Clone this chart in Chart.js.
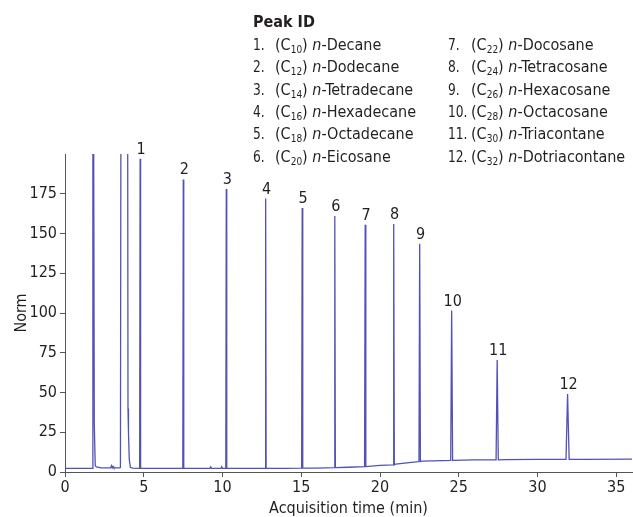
<!DOCTYPE html>
<html>
<head>
<meta charset="utf-8">
<script src="https://cdn.jsdelivr.net/npm/chart.js@4"></script>
<style>
  html, body { margin: 0; padding: 0; background: #fff; }
  #wrap { width: 633px; height: 517px; position: relative; }
</style>
</head>
<body>
<div id="wrap"><canvas id="c" width="633" height="517"></canvas></div>
<script>
// ---- data ----
const peakLabels  = ['1','2','3','4','5','6','7','8','9','10','11','12'];
const peakTimes   = [4.77, 7.51, 10.24, 12.74, 15.06, 17.13, 19.06, 20.87, 22.52, 24.55, 27.44, 31.91];
const peakHeights = [197, 184, 178, 172, 166, 161, 155.5, 156, 143.5, 101.5, 70.5, 49];
const peakBase    = [2.3, 2.3, 2.3, 2.3, 2.4, 2.8, 3.4, 4.5, 6.6, 7.3, 7.6, 8.0];
const peakHalfWidth = [0.03, 0.03, 0.03, 0.03, 0.035, 0.035, 0.04, 0.04, 0.045, 0.06, 0.07, 0.1];

// baseline trace incl. solvent front (off-scale excursions)
const baseTimes  = [0, 1.72, 1.77, 1.80, 1.83, 1.86, 1.92, 2.0, 2.3, 2.9, 2.95, 3.0, 3.05, 3.1, 3.45, 3.52, 3.56, 3.97, 4.0, 4.03, 4.08, 4.15, 4.3,
                    6.0, 9.2, 9.25, 9.3, 9.9, 9.95, 10.0, 14.0, 16.0, 18.0, 20.0, 21.0, 22.0, 22.45, 22.7, 24.0, 26.0, 28.0, 30.0, 33.0, 36.0];
const baseValues = [2.3, 2.3, 300, 300, 300, 30, 4, 3.2, 2.6, 2.6, 4, 2.6, 3.5, 2.6, 2.6, 2.8, 300, 300, 40, 25, 8, 3, 2.4,
                    2.3, 2.3, 3.2, 2.3, 2.3, 3.3, 2.3, 2.3, 2.5, 3.0, 4.2, 5.0, 6.0, 6.5, 6.8, 7.2, 7.6, 7.8, 7.9, 8.0, 8.1];

const xTicksMax = 36;
const yTicksMax = 200;

// ---- build trace ----
const trace = [];
baseTimes.forEach((t, i) => trace.push({x: t, y: baseValues[i]}));
peakTimes.forEach((t, i) => {
  trace.push({x: t - peakHalfWidth[i], y: peakBase[i]});
  trace.push({x: t, y: peakHeights[i]});
  trace.push({x: t + peakHalfWidth[i], y: peakBase[i]});
});
trace.sort((a, b) => a.x - b.x);

const FONT = "'Liberation Sans Narrow', 'DejaVu Sans Condensed', 'Roboto Condensed', sans-serif";
const TXT = '#231f20';
const AX = '#555555';

const legendLeft = [
  ['1.', '10', 'Decane'], ['2.', '12', 'Dodecane'], ['3.', '14', 'Tetradecane'],
  ['4.', '16', 'Hexadecane'], ['5.', '18', 'Octadecane'], ['6.', '20', 'Eicosane']
];
const legendRight = [
  ['7.', '22', 'Docosane'], ['8.', '24', 'Tetracosane'], ['9.', '26', 'Hexacosane'],
  ['10.', '28', 'Octacosane'], ['11.', '30', 'Triacontane'], ['12.', '32', 'Dotriacontane']
];

const overlay = {
  id: 'overlay',
  afterDraw(chart) {
    const ctx = chart.ctx;
    const xs = chart.scales.x, ys = chart.scales.y;
    ctx.save();
    ctx.fillStyle = TXT;
    // peak labels
    ctx.font = '16px ' + FONT;
    ctx.textAlign = 'center';
    ctx.textBaseline = 'alphabetic';
    peakLabels.forEach((lab, i) => {
      const px = xs.getPixelForValue(peakTimes[i]);
      const py = ys.getPixelForValue(peakHeights[i]) - 5;
      ctx.fillText(lab, px + 1, py);
    });
    // axis titles
    ctx.font = '16px ' + FONT;
    ctx.textAlign = 'center';
    ctx.fillText('Acquisition time (min)', (chart.chartArea.left + chart.chartArea.right) / 2, 513);
    ctx.save();
    ctx.translate(26, (chart.chartArea.top + chart.chartArea.bottom) / 2);
    ctx.rotate(-Math.PI / 2);
    ctx.fillText('Norm', 0, 0);
    ctx.restore();
    // legend
    ctx.textAlign = 'left';
    ctx.font = 'bold 16px ' + FONT;
    ctx.fillText('Peak ID', 253, 27);
    const drawEntry = (x0, x1, y, e) => {
      ctx.font = '16px ' + FONT;
      ctx.save();
      ctx.translate(x0, y);
      ctx.scale(0.85, 1);
      ctx.fillText(e[0], 0, 0);
      ctx.restore();
      let x = x1;
      ctx.fillText('(C', x, y); x += ctx.measureText('(C').width;
      ctx.font = '10px ' + FONT;
      ctx.fillText(e[1], x, y + 3); x += ctx.measureText(e[1]).width;
      ctx.font = '16px ' + FONT;
      ctx.fillText(') ', x, y); x += ctx.measureText(') ').width;
      ctx.font = 'italic 16px ' + FONT;
      ctx.fillText('n', x, y); x += ctx.measureText('n').width;
      ctx.font = '16px ' + FONT;
      ctx.fillText('-' + e[2], x, y);
    };
    legendLeft.forEach((e, i) => drawEntry(253, 275, 50 + i * 22.3, e));
    legendRight.forEach((e, i) => drawEntry(448, 471, 50 + i * 22.3, e));
    ctx.restore();
  }
};

new Chart(document.getElementById('c'), {
  type: 'line',
  data: {
    datasets: [{
      data: trace,
      borderColor: '#5252b6',
      borderWidth: 1.3,
      pointRadius: 0,
      tension: 0,
      fill: false
    }]
  },
  options: {
    responsive: false,
    animation: false,
    parsing: true,
    layout: { padding: { top: 154, left: 0, right: 1, bottom: 0 } },
    plugins: { legend: { display: false }, tooltip: { enabled: false } },
    scales: {
      x: {
        type: 'linear',
        min: 0, max: xTicksMax,
        afterFit(s) { s.height = 45; },
        border: { display: true, color: AX, width: 1 },
        grid: { display: true, drawOnChartArea: false, drawTicks: true, tickLength: 5, color: AX },
        ticks: { stepSize: 5, includeBounds: false, color: TXT, font: { family: FONT, size: 16 }, padding: 1, maxRotation: 0 }
      },
      y: {
        min: 0, max: yTicksMax,
        afterFit(s) { s.width = 65; },
        afterBuildTicks(s) { s.ticks = s.ticks.filter(t => t.value <= 175); },
        border: { display: true, color: AX, width: 1 },
        grid: { display: true, drawOnChartArea: false, drawTicks: true, tickLength: 5, color: AX },
        ticks: { stepSize: 25, includeBounds: false, color: TXT, font: { family: FONT, size: 16 }, padding: 3 }
      }
    }
  },
  plugins: [overlay]
});
</script>
</body>
</html>
